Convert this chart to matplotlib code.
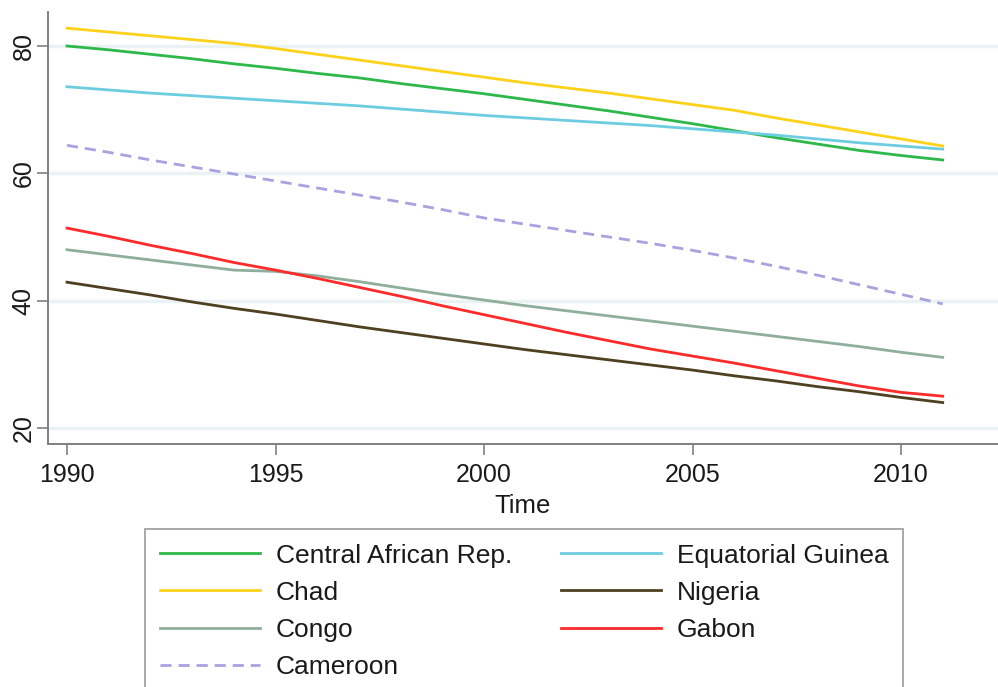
import matplotlib
matplotlib.use("Agg")
import matplotlib.pyplot as plt

# === DATA ===
years = list(range(1990, 2012))

central_african_rep = [80.0, 79.4, 78.7, 78.0, 77.2, 76.5, 75.7, 75.0, 74.1, 73.3, 72.5,
                       71.6, 70.7, 69.8, 68.8, 67.8, 66.7, 65.6, 64.6, 63.6, 62.8, 62.1]
chad = [82.8, 82.2, 81.6, 81.0, 80.4, 79.6, 78.7, 77.8, 76.9, 76.0, 75.1,
        74.2, 73.4, 72.6, 71.7, 70.8, 69.9, 68.7, 67.6, 66.5, 65.4, 64.3]
congo = [48.0, 47.2, 46.4, 45.6, 44.8, 44.6, 43.9, 43.0, 42.0, 41.0, 40.1,
         39.2, 38.4, 37.6, 36.8, 36.0, 35.2, 34.4, 33.6, 32.8, 31.9, 31.1]
cameroon = [64.4, 63.3, 62.1, 61.0, 59.9, 58.8, 57.7, 56.6, 55.5, 54.3, 53.0,
            52.0, 51.0, 50.0, 49.0, 47.9, 46.7, 45.4, 44.0, 42.5, 41.0, 39.5]
equatorial_guinea = [73.6, 73.1, 72.6, 72.2, 71.8, 71.4, 71.0, 70.6, 70.1, 69.6, 69.1,
                     68.7, 68.3, 67.9, 67.5, 67.0, 66.5, 66.0, 65.4, 64.8, 64.3, 63.8]
nigeria = [42.9, 41.9, 40.9, 39.8, 38.8, 37.9, 36.9, 35.9, 35.0, 34.1, 33.2,
           32.3, 31.5, 30.7, 29.9, 29.1, 28.2, 27.4, 26.5, 25.7, 24.8, 24.0]
gabon = [51.4, 50.1, 48.7, 47.4, 46.0, 44.8, 43.5, 42.1, 40.7, 39.2, 37.8,
         36.4, 35.0, 33.7, 32.4, 31.3, 30.2, 29.0, 27.8, 26.6, 25.6, 25.0]

x_ticks = [1990, 1995, 2000, 2005, 2010]
y_ticks = [20, 40, 60, 80]

# === PLOT SETTINGS ===
plt.rcParams['font.family'] = ['Liberation Sans', 'DejaVu Sans']

fig = plt.figure(figsize=(9.98, 6.87), dpi=100)
ax = fig.add_axes([48 / 998, 1 - 444 / 687, 1 - 48 / 998, (444 - 12) / 687])

lw = 2.0
ax.plot(years, central_african_rep, color='#2db84a', lw=lw, label='Central African Rep.')
ax.plot(years, chad, color='#ffd21a', lw=lw, label='Chad')
ax.plot(years, congo, color='#8fae9c', lw=lw, label='Congo')
ax.plot(years, cameroon, color='#a8a2e0', lw=lw, linestyle=(0, (4, 2.5)), label='Cameroon')
ax.plot(years, equatorial_guinea, color='#6ccde0', lw=lw, label='Equatorial Guinea')
ax.plot(years, nigeria, color='#4e4020', lw=lw, label='Nigeria')
ax.plot(years, gabon, color='#ff2a2a', lw=lw, label='Gabon')

ax.set_xlim(1989.544, 2012.326)
ax.set_ylim(17.49, 85.34)

# light Stata-style gridlines
ax.set_yticks(y_ticks)
ax.set_xticks(x_ticks)
ax.grid(axis='y', color='#eaf2f3', lw=2.5)
ax.set_axisbelow(True)

for side in ['top', 'right']:
    ax.spines[side].set_visible(False)
for side in ['left', 'bottom']:
    ax.spines[side].set_color('#808080')
    ax.spines[side].set_linewidth(1.4)

ax.tick_params(axis='both', direction='out', length=8, width=1.2, color='#808080',
               labelsize=18, labelcolor='#1a1a1a')
ax.tick_params(axis='x', pad=6)
ax.tick_params(axis='y', pad=1)
for lab in ax.get_yticklabels():
    lab.set_rotation(90)
    lab.set_va('center')

ax.set_xlabel('Time', fontsize=18.5, labelpad=5, color='#1a1a1a')

leg = ax.legend(loc='upper left', bbox_to_anchor=(145 / 998, 1 - 529 / 687),
                bbox_transform=fig.transFigure, ncol=2, fontsize=19,
                frameon=True, fancybox=False, handlelength=3.8, handletextpad=0.6,
                columnspacing=1.85, labelspacing=0.5, borderpad=0.55, borderaxespad=0)
leg.get_frame().set_edgecolor('#808080')
leg.get_frame().set_linewidth(1.2)
for t in leg.get_texts():
    t.set_color('#1a1a1a')

plt.savefig('out.png', dpi=100)
